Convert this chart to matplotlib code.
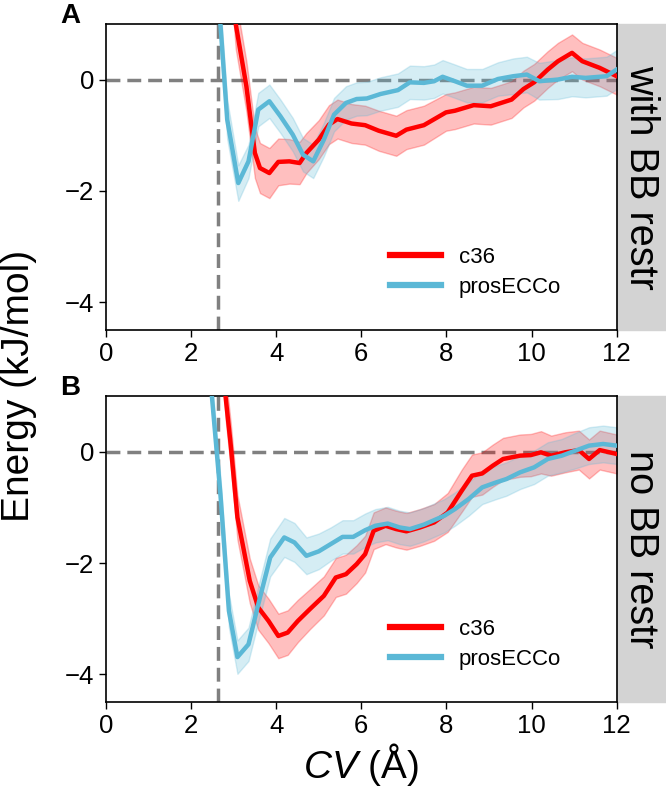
import numpy as np
import matplotlib
matplotlib.use("Agg")
import matplotlib.pyplot as plt
from matplotlib.patches import Rectangle

plt.rcParams['font.family'] = ['Liberation Sans', 'DejaVu Sans']
plt.rcParams['mathtext.fontset'] = 'custom'
plt.rcParams['mathtext.it'] = 'Liberation Sans:italic'
plt.rcParams['mathtext.rm'] = 'Liberation Sans'

# ---- data ----
# panel A: with backbone restraints
xA_c36 = [2.90, 3.05, 3.30, 3.50, 3.62, 3.84, 4.05, 4.31, 4.55, 4.71, 5.00, 5.24, 5.44, 5.77, 6.09, 6.41,
          6.82, 7.06, 7.47, 7.99, 8.20, 8.64, 9.04, 9.53, 9.81, 10.06, 10.38, 10.62, 10.95, 11.19, 11.60, 12.00]
yA_c36 = [2.5, 1.0, -0.12, -1.32, -1.59, -1.68, -1.48, -1.47, -1.50, -1.32, -1.08, -0.81, -0.71, -0.79, -0.82, -0.92,
          -1.01, -0.90, -0.82, -0.59, -0.56, -0.46, -0.48, -0.36, -0.17, -0.05, 0.18, 0.33, 0.48, 0.33, 0.21, 0.06]
eA_c36 = [0.45, 0.45, 0.45, 0.45, 0.45, 0.45, 0.42, 0.40, 0.38, 0.36, 0.35, 0.35, 0.35, 0.35, 0.35, 0.36,
          0.36, 0.35, 0.35, 0.33, 0.33, 0.33, 0.33, 0.33, 0.33, 0.33, 0.33, 0.33, 0.33, 0.33, 0.33, 0.33]

xA_pro = [2.60, 2.69, 2.85, 3.11, 3.35, 3.58, 3.84, 4.10, 4.39, 4.63, 4.87, 5.12, 5.36, 5.64, 5.89, 6.13, 6.45,
          6.86, 7.14, 7.47, 7.71, 7.91, 8.20, 8.48, 8.84, 9.21, 9.57, 9.89, 10.18, 10.62, 10.95, 11.27, 11.76, 12.00]
yA_pro = [2.5, 1.0, -0.72, -1.86, -1.47, -0.54, -0.39, -0.66, -0.99, -1.35, -1.47, -1.08, -0.63, -0.42, -0.35, -0.34, -0.26,
          -0.19, -0.05, -0.06, -0.03, 0.05, -0.03, -0.11, -0.11, 0.01, 0.06, 0.09, -0.03, 0.0, 0.05, 0.03, 0.06, 0.18]
eA_pro = [0.35, 0.35, 0.35, 0.32, 0.30, 0.30, 0.30, 0.30, 0.30, 0.30, 0.30, 0.30, 0.30, 0.30, 0.30, 0.30, 0.30,
          0.30, 0.30, 0.30, 0.30, 0.30, 0.30, 0.30, 0.30, 0.30, 0.32, 0.32, 0.33, 0.35, 0.35, 0.35, 0.35, 0.35]

# panel B: no backbone restraints
xB_c36 = [2.70, 2.81, 2.93, 3.09, 3.38, 3.58, 3.82, 4.05, 4.27, 4.51, 4.79, 5.12, 5.40, 5.64, 5.89, 6.09, 6.29, 6.57,
          6.82, 7.06, 7.38, 7.71, 8.03, 8.36, 8.60, 8.84, 9.09, 9.33, 9.73, 9.98, 10.22, 10.46, 10.79, 11.11, 11.35, 11.60, 12.00]
yB_c36 = [2.5, 1.0, 0.14, -1.18, -2.32, -2.80, -3.04, -3.31, -3.25, -3.04, -2.83, -2.59, -2.26, -2.20, -2.02, -1.84, -1.42, -1.33,
          -1.39, -1.43, -1.36, -1.27, -1.09, -0.70, -0.43, -0.39, -0.25, -0.13, -0.07, -0.06, -0.01, -0.07, -0.01, 0.03, -0.13, 0.03, -0.04]
eB_c36 = [0.40, 0.40, 0.40, 0.40, 0.40, 0.40, 0.40, 0.40, 0.40, 0.38, 0.36, 0.35, 0.35, 0.35, 0.34, 0.33, 0.33, 0.33,
          0.33, 0.33, 0.33, 0.33, 0.35, 0.38, 0.38, 0.38, 0.38, 0.38, 0.38, 0.38, 0.38, 0.36, 0.36, 0.35, 0.35, 0.35, 0.35]

xB_pro = [2.35, 2.49, 2.69, 2.89, 3.09, 3.35, 3.58, 3.86, 4.19, 4.43, 4.71, 5.00, 5.28, 5.56, 5.81, 6.09, 6.33, 6.62,
          6.90, 7.14, 7.47, 7.71, 7.95, 8.20, 8.52, 8.84, 9.17, 9.41, 9.73, 10.06, 10.38, 10.71, 11.03, 11.35, 11.68, 12.00]
yB_pro = [2.5, 1.0, -0.76, -2.86, -3.69, -3.46, -2.74, -1.90, -1.54, -1.63, -1.87, -1.79, -1.66, -1.53, -1.53, -1.41, -1.33, -1.29,
          -1.36, -1.39, -1.31, -1.23, -1.15, -1.03, -0.85, -0.64, -0.55, -0.49, -0.37, -0.28, -0.13, -0.07, 0.02, 0.11, 0.14, 0.11]
eB_pro = [0.30, 0.30, 0.30, 0.30, 0.30, 0.30, 0.32, 0.34, 0.35, 0.35, 0.33, 0.32, 0.30, 0.30, 0.30, 0.30, 0.30, 0.30,
          0.30, 0.30, 0.30, 0.30, 0.30, 0.30, 0.30, 0.30, 0.30, 0.30, 0.30, 0.30, 0.30, 0.30, 0.32, 0.33, 0.33, 0.33]

cv_cut = 2.64
panels = ['A', 'B']
strip_titles = ['with BB restr', 'no BB restr']
red = '#ff0000'
blue = '#5bb8d6'

fig = plt.figure(figsize=(6.66, 7.97), dpi=100)
axA = fig.add_axes([0.159, 0.586, 0.767, 0.384])
axB = fig.add_axes([0.159, 0.119, 0.767, 0.384])

data = [
    (xA_c36, yA_c36, eA_c36, xA_pro, yA_pro, eA_pro),
    (xB_c36, yB_c36, eB_c36, xB_pro, yB_pro, eB_pro),
]

for ax, d, lab, title in zip([axA, axB], data, panels, strip_titles):
    xc, yc, ec, xp, yp, ep = [np.array(v) for v in d]
    ax.axhline(0, color='#808080', lw=2.5, ls=(0, (4, 2)), zorder=1)
    ax.axvline(cv_cut, color='#808080', lw=2.5, ls=(0, (4, 2)), zorder=1)
    ax.fill_between(xc, yc - ec, yc + ec, color=red, alpha=0.25, lw=1, zorder=2)
    ax.fill_between(xp, yp - ep, yp + ep, color=blue, alpha=0.25, lw=1, zorder=2)
    ax.plot(xc, yc, color=red, lw=3.2, label='c36', zorder=3)
    ax.plot(xp, yp, color=blue, lw=3.2, label='prosECCo', zorder=4)
    ax.set_xlim(0, 12)
    ax.set_ylim(-4.5, 1)
    ax.set_xticks([0, 2, 4, 6, 8, 10, 12])
    ax.set_yticks([-4, -2, 0])
    ax.tick_params(labelsize=18.5, length=5, width=1)
    for s in ax.spines.values():
        s.set_linewidth(1.2)
    leg = ax.legend(loc='lower right', bbox_to_anchor=(0.93, 0.04), frameon=False,
                    fontsize=16, handlelength=2.3, labelspacing=0.4)
    for h in leg.get_lines():
        h.set_linewidth(4.5)
    # facet strip on the right
    ax.add_patch(Rectangle((1.0, 0), 0.096, 1, transform=ax.transAxes,
                           color='#d3d3d3', clip_on=False, zorder=0))
    ax.text(1.048, 0.5, title, transform=ax.transAxes, rotation=270,
            ha='center', va='center', fontsize=28.5)
    ax.text(-0.07, 1.025, lab, transform=ax.transAxes, ha='center', va='center',
            fontsize=20, fontweight='bold')

axB.set_xlabel(r'$CV$ ($\mathrm{\AA}$)', fontsize=28, labelpad=2)
fig.text(0.028, 0.516, 'Energy (kJ/mol)', rotation=90, ha='center', va='center', fontsize=28)

fig.savefig('out.png', dpi=100)
